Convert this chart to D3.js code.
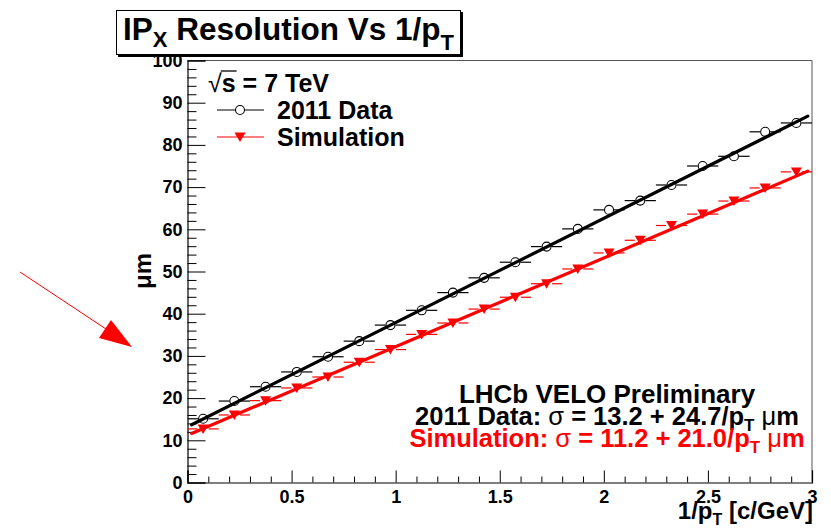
<!DOCTYPE html>
<html>
<head>
<meta charset="utf-8">
<script src="https://cdn.jsdelivr.net/npm/d3@7"></script>
<style>
  html, body { margin: 0; padding: 0; background: #fff; }
  svg { display: block; }
  text { font-family: "Liberation Sans", Arial, Helvetica, sans-serif; font-weight: bold; fill: #000; }
</style>
</head>
<body>
<svg id="chart" width="831" height="530"></svg>
<script>
// ---------------- data ----------------
const binCenters = [0.075, 0.225, 0.375, 0.525, 0.675, 0.825, 0.975, 1.125, 1.275, 1.425,
                    1.575, 1.725, 1.875, 2.025, 2.175, 2.325, 2.475, 2.625, 2.775, 2.925];
const binHalfWidth = [0.075, 0.075, 0.075, 0.075, 0.075, 0.075, 0.075, 0.075, 0.075, 0.075,
                      0.075, 0.075, 0.075, 0.075, 0.075, 0.075, 0.075, 0.075, 0.075, 0.075];
const data2011 = [15.1, 19.3, 22.7, 26.2, 29.8, 33.5, 37.3, 40.8, 45.0, 48.5,
                  52.2, 55.9, 60.1, 64.6, 66.8, 70.5, 75.0, 77.3, 83.1, 85.2];
const dataSim  = [12.7, 16.0, 19.4, 22.4, 25.0, 28.5, 31.5, 35.1, 37.8, 41.1,
                  43.9, 47.1, 50.6, 54.4, 57.4, 60.9, 63.6, 66.7, 69.8, 73.6];
// fit parameters: sigma = a + b / pT
const fit2011 = [13.2, 24.7];
const fitSim  = [11.2, 21.0];
const fitRange = [0.02, 2.98];
const xMajorTicks = [0, 0.5, 1, 1.5, 2, 2.5, 3];
const xTickLabels = ["0", "0.5", "1", "1.5", "2", "2.5", "3"];
const xMinorTicks = [0.1, 0.2, 0.3, 0.4, 0.6, 0.7, 0.8, 0.9, 1.1, 1.2, 1.3, 1.4, 1.6, 1.7, 1.8, 1.9,
                     2.1, 2.2, 2.3, 2.4, 2.6, 2.7, 2.8, 2.9];
const yMajorTicks = [0, 10, 20, 30, 40, 50, 60, 70, 80, 90, 100];
const yTickLabels = ["0", "10", "20", "30", "40", "50", "60", "70", "80", "90", "100"];
const yMinorTicks = [2,4,6,8,12,14,16,18,22,24,26,28,32,34,36,38,42,44,46,48,52,54,56,58,
                     62,64,66,68,72,74,76,78,82,84,86,88,92,94,96,98];

// ---------------- layout ----------------
const svg = d3.select("#chart");
const X0 = 187.5, X1 = 812, Y0 = 482.5, Y1 = 60.5;
const x = d3.scaleLinear().domain([0, 3]).range([X0, X1]);
const y = d3.scaleLinear().domain([0, 100]).range([Y0, Y1]);
const RED = "#ff0000";

// frame (top/right grey)
svg.append("line").attr("x1", X0).attr("x2", X1).attr("y1", Y1).attr("y2", Y1)
  .attr("stroke", "#555").attr("stroke-width", 1);
svg.append("line").attr("x1", X1).attr("x2", X1).attr("y1", Y1).attr("y2", Y0)
  .attr("stroke", "#555").attr("stroke-width", 1);

// x axis
const gx = svg.append("g").attr("transform", `translate(0,${Y0})`);
gx.call(d3.axisBottom(x).tickValues(xMajorTicks).tickSize(-12).tickPadding(8)
  .tickFormat((d, i) => xTickLabels[i]));
const gxm = svg.append("g").attr("transform", `translate(0,${Y0})`);
gxm.call(d3.axisBottom(x).tickValues(xMinorTicks).tickSize(-6).tickFormat(""));
gxm.select(".domain").remove();

// y axis
const gy = svg.append("g").attr("transform", `translate(${X0},0)`);
gy.call(d3.axisLeft(y).tickValues(yMajorTicks).tickSize(-18).tickPadding(5)
  .tickFormat((d, i) => yTickLabels[i]));
const gym = svg.append("g").attr("transform", `translate(${X0},0)`);
gym.call(d3.axisLeft(y).tickValues(yMinorTicks).tickSize(-9).tickFormat(""));
gym.select(".domain").remove();

svg.selectAll(".domain").attr("stroke", "#000").attr("stroke-width", 1.2);
svg.selectAll(".tick line").attr("stroke", "#000").attr("stroke-width", 1);
svg.selectAll(".tick text")
  .attr("font-family", "'Liberation Sans', Arial, Helvetica, sans-serif")
  .attr("font-weight", "bold").attr("font-size", 18).attr("fill", "#000");

// axis titles
const xt = svg.append("text").attr("x", 813).attr("y", 519).attr("text-anchor", "end")
  .attr("font-size", 24);
xt.append("tspan").text("1/p");
xt.append("tspan").attr("dy", 6).attr("font-size", 16).text("T");
xt.append("tspan").attr("dy", -6).text(" [c/GeV]");

svg.append("text").attr("transform", "translate(151,271) rotate(-90)")
  .attr("text-anchor", "middle").attr("font-size", 24).text("μm");

// ---------------- series ----------------
function drawSeries(vals, color, kind) {
  const g = svg.append("g");
  const gap = kind === "circle" ? 5 : 5.5;
  binCenters.forEach((c, i) => {
    const px = x(c), py = y(vals[i]);
    g.append("line").attr("x1", x(c - binHalfWidth[i])).attr("x2", px - gap)
      .attr("y1", py).attr("y2", py).attr("stroke", color).attr("stroke-width", 1.2);
    g.append("line").attr("x1", px + gap).attr("x2", x(c + binHalfWidth[i]))
      .attr("y1", py).attr("y2", py).attr("stroke", color).attr("stroke-width", 1.2);
  });
  return g;
}
function drawFit(p, color) {
  svg.append("line")
    .attr("x1", x(fitRange[0])).attr("y1", y(p[0] + p[1] * fitRange[0]))
    .attr("x2", x(fitRange[1])).attr("y2", y(p[0] + p[1] * fitRange[1]))
    .attr("stroke", color).attr("stroke-width", 3.2).attr("stroke-linecap", "round");
}
drawSeries(data2011, "#000", "circle");
drawSeries(dataSim, RED, "tri");
drawFit(fit2011, "#000");
drawFit(fitSim, RED);

const tri = "M-5.5,-4.5 L5.5,-4.5 L0,5 Z";
svg.append("g").selectAll("circle").data(data2011).join("circle")
  .attr("cx", (d, i) => x(binCenters[i])).attr("cy", d => y(d)).attr("r", 4.5)
  .attr("fill", "none").attr("stroke", "#000").attr("stroke-width", 1.1);
svg.append("g").selectAll("path").data(dataSim).join("path")
  .attr("transform", (d, i) => `translate(${x(binCenters[i])},${y(d)})`)
  .attr("d", tri).attr("fill", RED);

// ---------------- legend ----------------
const sq = svg.append("text").attr("x", 208).attr("y", 92).attr("font-size", 25);
sq.append("tspan").attr("font-weight", "normal").text("√");
sq.append("tspan").text("s");
sq.append("tspan").text(" = 7 TeV");
// overline over "s"
const sStart = sq.node().getStartPositionOfChar(1);
const sEnd = sq.node().getEndPositionOfChar(1);
svg.append("line").attr("x1", sStart.x - 1).attr("x2", sEnd.x + 1)
  .attr("y1", 71).attr("y2", 71).attr("stroke", "#000").attr("stroke-width", 1.3);

const legItems = [
  { label: "2011 Data", color: "#000", kind: "circle", yc: 110 },
  { label: "Simulation", color: RED, kind: "tri", yc: 137 }
];
legItems.forEach(it => {
  svg.append("line").attr("x1", 217).attr("x2", 264).attr("y1", it.yc).attr("y2", it.yc)
    .attr("stroke", it.color).attr("stroke-width", 1.2);
  if (it.kind === "circle") {
    svg.append("circle").attr("cx", 240).attr("cy", it.yc).attr("r", 4.5)
      .attr("fill", "#fff").attr("stroke", it.color).attr("stroke-width", 1.1);
  } else {
    svg.append("path").attr("transform", `translate(240,${it.yc})`).attr("d", tri).attr("fill", it.color);
  }
  svg.append("text").attr("x", 277).attr("y", it.yc + 8.5).attr("font-size", 25).text(it.label);
});

// ---------------- annotation ----------------
const ax = 607;
svg.append("text").attr("x", ax).attr("y", 403).attr("text-anchor", "middle")
  .attr("font-size", 26).text("LHCb VELO Preliminary");
function fitText(yb, head, a, b, color) {
  const t = svg.append("text").attr("x", ax).attr("y", yb).attr("text-anchor", "middle")
    .attr("font-size", 25.5).attr("fill", color).style("fill", color);
  t.append("tspan").text(head + ": ");
  t.append("tspan").attr("font-weight", "normal").text("σ");
  t.append("tspan").text(` = ${a} + ${b}/p`);
  t.append("tspan").attr("dy", 6).attr("font-size", 17).text("T");
  t.append("tspan").attr("dy", -6).attr("font-weight", "normal").text(" μ");
  t.append("tspan").text("m");
}
fitText(425, "2011 Data", fit2011[0].toFixed(1), fit2011[1].toFixed(1), "#000");
fitText(447, "Simulation", fitSim[0].toFixed(1), fitSim[1].toFixed(1), RED);

// ---------------- title box ----------------
svg.append("rect").attr("x", 118).attr("y", 12).attr("width", 345).attr("height", 45).attr("fill", "#000");
svg.append("rect").attr("x", 116.5).attr("y", 10.5).attr("width", 344).attr("height", 44)
  .attr("fill", "#fff").attr("stroke", "#000").attr("stroke-width", 1);
const tt = svg.append("text").attr("x", 123).attr("y", 40).attr("font-size", 31.5);
tt.append("tspan").text("IP");
tt.append("tspan").attr("dy", 7).attr("font-size", 22).text("X");
tt.append("tspan").attr("dy", -7).text(" Resolution Vs 1/p");
tt.append("tspan").attr("dy", 10).attr("font-size", 22).text("T");

// ---------------- red arrow ----------------
svg.append("line").attr("x1", 20).attr("y1", 272).attr("x2", 112).attr("y2", 333)
  .attr("stroke", RED).attr("stroke-width", 1);
svg.append("path").attr("d", "M111,320 L99,338 L132,347 Z").attr("fill", RED);
</script>
</body>
</html>
